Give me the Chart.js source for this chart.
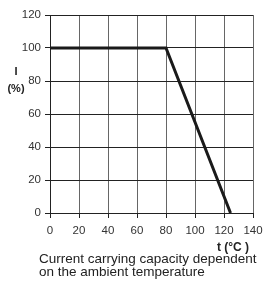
<!DOCTYPE html>
<html>
<head>
<meta charset="utf-8">
<script src="https://cdn.jsdelivr.net/npm/chart.js@4.4.0/dist/chart.umd.min.js"></script>
<style>
	html, body { margin:0; padding:0; background:#fff; }
	#contenedor { position:relative; width:270px; height:282px; }
</style>
</head>
<body>
<div id="contenedor"><canvas id="canva" width="270" height="282"></canvas></div>
<script>
// datos
let temperaturas = [0, 80, 124.5];
let corrientes = [100, 100, 0];
let x_min = 0, x_max = 140, x_paso = 20;
let y_min = 0, y_max = 120, y_paso = 20;
let titulo_y = ["I", "(%)"];
let titulo_x = "t (°C )";
let pie = ["Current carrying capacity dependent", "on the ambient temperature"];

let puntos = temperaturas.map((t, i) => ({x: t, y: corrientes[i]}));

// textos de ejes y pie
const textos = {
	id: 'textos',
	afterDraw(chart) {
		let c = chart.ctx;
		c.save();
		c.fillStyle = '#222';
		c.textBaseline = 'alphabetic';
		c.font = 'bold 11px "Liberation Sans", Arial, sans-serif';
		c.textAlign = 'center';
		c.fillText(titulo_y[0], 16, 75);
		c.fillText(titulo_y[1], 16, 92);
		c.font = 'bold 12px "Liberation Sans", Arial, sans-serif';
		c.fillText(titulo_x, 233, 251);
		c.font = '13.5px "Liberation Sans", Arial, sans-serif';
		c.textAlign = 'left';
		c.fillText(pie[0], 39, 263);
		c.fillText(pie[1], 39, 276);
		c.restore();
	}
};

const ctx = document.getElementById('canva').getContext('2d');
const grafica = new Chart(ctx, {
	type: 'scatter',
	data: {
		datasets: [{
			data: puntos,
			showLine: true,
			borderColor: '#1a1a1a',
			borderWidth: 3,
			pointRadius: 0,
			fill: false
		}]
	},
	options: {
		responsive: false,
		animation: false,
		layout: { padding: { top: 15, right: 17, left: 0, bottom: 0 } },
		plugins: { legend: { display: false }, tooltip: { enabled: false } },
		scales: {
			x: {
				type: 'linear',
				min: x_min, max: x_max,
				afterFit: s => { s.height = 69; },
				ticks: { stepSize: x_paso, color: '#333', padding: 6, font: { size: 11.5, family: '"Liberation Sans", Arial, sans-serif' }, maxRotation: 0 },
				grid: { display: true, drawOnChartArea: true, color: '#666666', lineWidth: 1, tickLength: 5, tickColor: '#222' },
				border: { color: '#222', width: 1 }
			},
			y: {
				min: y_min, max: y_max,
				afterFit: s => { s.width = 50; },
				ticks: { stepSize: y_paso, color: '#333', padding: 4, font: { size: 11.5, family: '"Liberation Sans", Arial, sans-serif' } },
				grid: { color: '#222', lineWidth: 1, tickLength: 5, tickColor: '#222' },
				border: { color: '#222', width: 1 }
			}
		}
	},
	plugins: [textos]
});
</script>
</body>
</html>
